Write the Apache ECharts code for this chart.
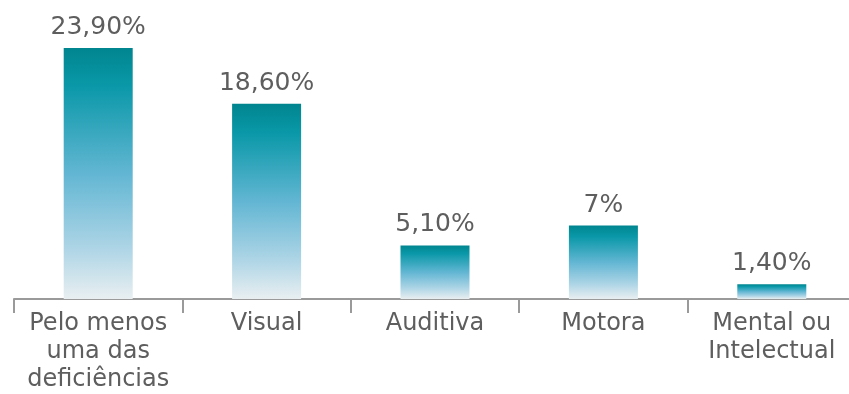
<!DOCTYPE html>
<html>
<head>
<meta charset="utf-8">
<script src="https://cdn.jsdelivr.net/npm/echarts@6/dist/echarts.min.js"></script>
<style>html,body{margin:0;padding:0;background:#fff}#c{width:849px;height:394px}</style>
</head>
<body>
<div id="c"></div>
<script>
const categories = ['Pelo menos\numa das\ndeficiências', 'Visual', 'Auditiva', 'Motora', 'Mental ou\nIntelectual'];
const values = [23.9, 18.6, 5.1, 7, 1.4];
const valueLabels = ['23,90%', '18,60%', '5,10%', '7%', '1,40%'];

const chart = echarts.init(document.getElementById('c'), null, {renderer: 'canvas'});
chart.setOption({
  animation: false,
  grid: {left: 14, top: 47, width: 842, bottom: 95, containLabel: false, outerBoundsMode: 'none'},
  xAxis: {
    type: 'category',
    data: categories,
    boundaryGap: true,
    axisLine: {lineStyle: {color: '#9a9a9a', width: 2}},
    axisTick: {show: true, length: 14, lineStyle: {color: '#9a9a9a', width: 2}, alignWithLabel: false},
    axisLabel: {color: '#5e5e5e', fontFamily: 'DejaVu Sans', fontSize: 24, lineHeight: 28, margin: 11, interval: 0}
  },
  yAxis: {type: 'value', min: 0, max: 24, show: false, splitLine: {show: false}},
  series: [{
    type: 'bar',
    data: values,
    barWidth: 69,
    itemStyle: {
      color: new echarts.graphic.LinearGradient(0, 0, 0, 1, [
        {offset: 0, color: '#00858f'},
        {offset: 0.15, color: '#0a98a8'},
        {offset: 0.5, color: '#62b6d3'},
        {offset: 0.8, color: '#aed5e6'},
        {offset: 1, color: '#e9eff1'}
      ])
    },
    label: {
      show: true, position: 'top', distance: 8,
      color: '#5e5e5e', fontFamily: 'DejaVu Sans', fontSize: 25,
      formatter: p => valueLabels[p.dataIndex]
    }
  }]
});
</script>
</body>
</html>
